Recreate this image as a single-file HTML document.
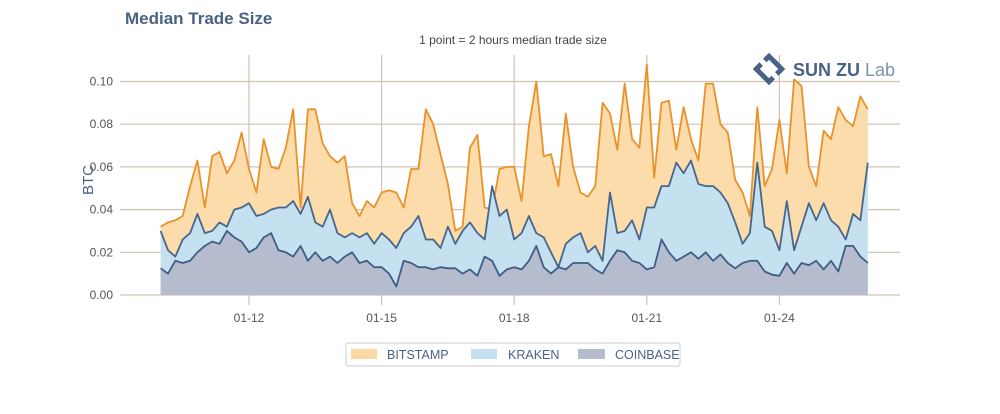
<!DOCTYPE html>
<html><head><meta charset="utf-8">
<style>
body{margin:0;background:#fff;width:1000px;height:409px;overflow:hidden;font-family:"Liberation Sans",sans-serif;}
</style></head>
<body>
<svg id="chart" width="1000" height="409" xmlns="http://www.w3.org/2000/svg">
<text x="125" y="24" font-size="17" font-weight="bold" fill="#4a6285">Median Trade Size</text>
<text x="513" y="44" font-size="12" fill="#444" text-anchor="middle">1 point = 2 hours median trade size</text>
<text transform="translate(93,180) rotate(-90)" font-size="15" fill="#4a6285" text-anchor="middle">BTC</text>
<g id="grid"></g>
<g id="areas"></g>
<g id="xticks"></g>
<g id="yticks"></g>
<g>
<g transform="translate(769,69) rotate(45)" fill="none" stroke="#4a6285" stroke-width="5">
<path d="M-9,-3 L-9,-9 L9,-9 L9,-2"/><path d="M9,3 L9,9 L-9,9 L-9,2"/>
</g>
<text x="793" y="76" font-size="18" font-weight="bold" fill="#4a6285">SUN ZU <tspan font-weight="normal" fill="#7f93b0">Lab</tspan></text>
</g>
<g>
<rect x="346" y="343" width="334" height="23" fill="#fff" stroke="#ccc" rx="2"/>
<g><rect x="351" y="349" width="26" height="10" fill="#fbd9a6"/><text x="387" y="359" font-size="12.5" fill="#4a6285">BITSTAMP</text></g>
<g><rect x="471" y="349" width="26" height="10" fill="#c5e1ef"/><text x="508" y="359" font-size="12.5" fill="#4a6285">KRAKEN</text></g>
<g><rect x="578" y="349" width="27" height="10" fill="#b5bccd"/><text x="615" y="359" font-size="12.5" fill="#4a6285">COINBASE</text></g>
</g>
</svg>
<script>
const bitstamp=[0.032,0.034,0.035,0.037,0.051,0.063,0.041,0.065,0.067,0.057,0.063,0.076,0.059,0.048,0.073,0.060,0.059,0.069,0.087,0.041,0.087,0.087,0.071,0.065,0.062,0.065,0.043,0.037,0.044,0.041,0.048,0.049,0.048,0.041,0.059,0.059,0.087,0.080,0.066,0.052,0.030,0.032,0.069,0.075,0.041,0.040,0.059,0.060,
0.060,0.044,0.079,0.100,0.065,0.066,0.051,0.085,0.060,0.048,0.046,0.051,0.090,0.085,0.068,0.099,0.073,0.069,0.108,0.055,0.090,0.091,0.068,0.088,0.073,0.063,0.099,0.099,0.080,0.076,0.054,0.048,0.037,0.088,0.051,0.059,0.082,0.057,0.101,0.098,0.060,0.051,0.077,0.073,0.088,0.082,0.079,0.093,0.087];
const kraken=[0.030,0.021,0.018,0.026,0.029,0.038,0.029,0.030,0.034,0.032,0.040,0.041,0.043,0.037,0.038,0.040,0.041,0.041,0.044,0.038,0.046,0.034,0.032,0.040,0.029,0.027,0.029,0.027,0.029,0.024,0.029,0.026,0.022,0.029,0.032,0.037,0.026,0.026,0.022,0.032,0.024,0.030,0.034,0.029,0.026,0.051,0.037,0.040,
0.026,0.029,0.037,0.029,0.027,0.020,0.013,0.024,0.027,0.029,0.020,0.023,0.016,0.048,0.029,0.030,0.035,0.026,0.041,0.041,0.051,0.051,0.062,0.057,0.063,0.052,0.051,0.051,0.048,0.043,0.034,0.024,0.029,0.062,0.032,0.030,0.021,0.044,0.021,0.032,0.043,0.035,0.043,0.035,0.032,0.026,0.038,0.035,0.062];
const coinbase=[0.0125,0.010,0.016,0.015,0.016,0.020,0.023,0.025,0.024,0.030,0.027,0.025,0.020,0.022,0.027,0.029,0.021,0.020,0.018,0.023,0.016,0.020,0.016,0.018,0.015,0.018,0.020,0.015,0.016,0.013,0.013,0.010,0.004,0.016,0.015,0.013,0.013,0.012,0.013,0.0125,0.0125,0.010,0.012,0.009,0.018,0.016,0.009,0.012,
0.013,0.012,0.016,0.023,0.013,0.010,0.013,0.012,0.015,0.015,0.015,0.012,0.010,0.016,0.021,0.020,0.016,0.015,0.012,0.013,0.026,0.020,0.016,0.018,0.020,0.017,0.020,0.016,0.019,0.015,0.0125,0.015,0.016,0.016,0.011,0.0095,0.009,0.015,0.010,0.015,0.014,0.016,0.012,0.016,0.011,0.023,0.023,0.018,0.015];
const yTicks=[0,0.02,0.04,0.06,0.08,0.10];
const yTickLabels=["0.00","0.02","0.04","0.06","0.08","0.10"];
const xTickDays=[2,5,8,11,14];
const xTickLabels=["01-12","01-15","01-18","01-21","01-24"];
const stepHours=4;

const NS="http://www.w3.org/2000/svg";
const X0=160.6, PXDAY=44.2, Y0=295, PXUNIT=2135;
const xs=h=>X0+h/24*PXDAY;
const ys=v=>Y0-v*PXUNIT;
function mk(tag,attrs,parent){const e=document.createElementNS(NS,tag);for(const k in attrs)e.setAttribute(k,attrs[k]);parent.appendChild(e);return e;}
const grid=document.getElementById('grid'),areas=document.getElementById('areas'),xt=document.getElementById('xticks'),yt=document.getElementById('yticks');
yTicks.forEach((v,i)=>{
  const l=mk('line',{x1:120,x2:900,y1:ys(v),y2:ys(v),stroke:'#cdc3b6','stroke-width':1.2},grid);
  
  
  const t=mk('text',{x:113,y:ys(v)+4,'font-size':12,fill:'#555','text-anchor':'end'},yt);
  t.textContent=yTickLabels[i];
  
  
});
xTickDays.forEach((d,i)=>{
  const x=xs(d*24);
  const l=mk('line',{x1:x,x2:x,y1:55,y2:305,stroke:'#cdc3b6','stroke-width':1.2},grid);
  
  
  const t=mk('text',{x:x,y:322,'font-size':12,fill:'#555','text-anchor':'middle'},xt);
  t.textContent=xTickLabels[i];
  
  
});
function series(data,fill,stroke,name){
  const pts=data.map((v,i)=>xs(i*stepHours).toFixed(1)+','+ys(v).toFixed(1));
  const a=mk('polygon',{points:xs(0)+','+Y0+' '+pts.join(' ')+' '+xs((data.length-1)*stepHours)+','+Y0,fill:fill},areas);
  
  
  const l=mk('polyline',{points:pts.join(' '),fill:'none',stroke:stroke,'stroke-width':1.8,'stroke-linejoin':'round'},areas);
  
  
}
series(bitstamp,'#fbdcaa','#ea922a','bitstamp');
series(kraken,'#c5e1ef','#46668e','kraken');
series(coinbase,'#b5bccd','#3f5d85','coinbase');
</script>
</body></html>
